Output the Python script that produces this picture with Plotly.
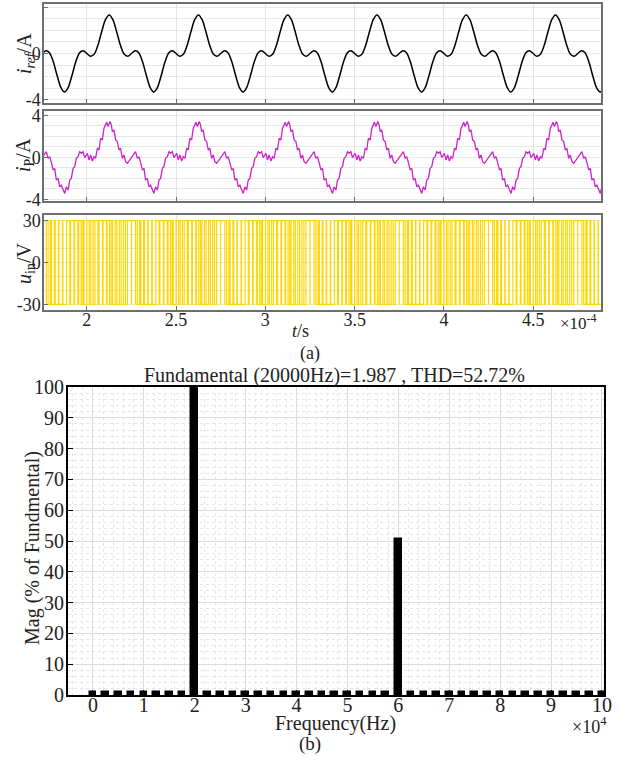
import plotly.graph_objects as go

# ---------------- (a) time-domain data ----------------
period_s = 5.0e-5              # one fundamental period (20 kHz)
first_period_start_s = 1.5e-4  # start of the first drawn period
n_periods = 7

# reference current, one period, sampled every 15 degrees
iref_phase_deg = [0, 15, 30, 45, 60, 75, 90, 105, 120, 135, 150, 165,
                  180, 195, 210, 225, 240, 255, 270, 285, 300, 315, 330, 345]
iref_values_A = [0, -0.24, -0.05, 0.74, 1.91, 2.94, 3.35, 2.94, 1.91, 0.74, -0.05, -0.24,
                 0, 0.24, 0.05, -0.74, -1.91, -2.94, -3.35, -2.94, -1.91, -0.74, 0.05, 0.24]

# actual current, one period (time offset in microseconds, value in A)
ip_tau_us = [0.3, 1.2, 2.1, 3.1, 4.0, 4.9, 5.9, 6.8, 7.7, 8.7, 9.6,
             10.5, 11.1, 11.9, 13.0, 13.7, 14.3, 15.2, 16.1, 17.1, 18.0,
             18.9, 19.9, 20.8, 21.7, 22.7, 27.3, 28.3, 29.2, 30.2, 31.1,
             32.0, 32.9, 33.9, 34.8, 35.7, 36.7, 37.6, 38.5, 39.5, 40.4,
             41.3, 42.3, 43.2, 44.1, 45.1, 46.0, 46.9, 47.9, 48.8, 49.7]
ip_values_A = [0.38, -0.25, 0.22, -0.35, 0.06, -0.10, 0.86, 0.70, 1.81, 1.65, 2.76,
               3.08, 3.33, 2.92, 3.40, 3.08, 2.44, 2.60, 1.65, 1.49, 0.70,
               0.86, -0.10, 0.22, -0.41, -0.57, 0.54, -0.10, 0.06, -0.55, -1.20,
               -1.05, -2.16, -2.00, -2.80, -2.65, -3.11, -3.43, -2.80, -3.11, -2.16,
               -2.00, -1.05, -0.89, -0.10, 0.06, 0.54, 0.38, 0.54, -0.03, 0.22]

# inverter voltage: +/- level and per-switching-cycle duty (22 cycles per period)
uin_level_V = 30
uin_duty = [0.6, 0.55, 0.75, 0.85, 0.85, 0.6, 0.35, 0.4, 0.45, 0.5, 1.0,
            1.0, 0.45, 0.3, 0.2, 0.1, 0.1, 0.8, 0.85, 0.8, 0.6, 0.3]

time_tick_vals_s = [2.0e-4, 2.5e-4, 3.0e-4, 3.5e-4, 4.0e-4, 4.5e-4]
time_tick_text = ["2", "2.5", "3", "3.5", "4", "4.5"]

# ---------------- (b) spectrum data ----------------
harm_freq_hz = [0, 2500, 5000, 7500, 10000, 12500, 15000, 17500, 20000, 22500,
                25000, 27500, 30000, 32500, 35000, 37500, 40000, 42500, 45000, 47500,
                50000, 52500, 55000, 57500, 60000, 62500, 65000, 67500, 70000, 72500,
                75000, 77500, 80000, 82500, 85000, 87500, 90000, 92500, 95000, 97500,
                100000]
harm_mag_pct = [1.1, 1.0, 1.0, 1.0, 1.0, 1.0, 1.0, 1.0, 100.0, 1.0,
                1.0, 1.0, 1.0, 1.0, 1.0, 1.0, 1.0, 1.0, 1.0, 1.0,
                1.0, 1.0, 1.0, 1.0, 50.5, 1.0, 1.0, 1.0, 1.0, 1.0,
                1.0, 1.0, 1.0, 1.0, 1.0, 1.0, 1.0, 1.0, 1.0, 1.0,
                1.0]
freq_tick_vals_hz = [0, 10000, 20000, 30000, 40000, 50000, 60000, 70000, 80000, 90000, 100000]
freq_tick_text = ["0", "1", "2", "3", "4", "5", "6", "7", "8", "9", "10"]
mag_tick_vals = [0, 10, 20, 30, 40, 50, 60, 70, 80, 90, 100]

# ---------------- build traces ----------------
t_ref, y_ref, t_p, y_p, t_u, y_u = [], [], [], [], [], []
cycle_s = period_s / len(uin_duty)
for n in range(n_periods):
    base = first_period_start_s + n * period_s
    for d, v in zip(iref_phase_deg, iref_values_A):
        t_ref.append(base + d / 360.0 * period_s)
        y_ref.append(v)
    for tau, v in zip(ip_tau_us, ip_values_A):
        t_p.append(base + tau * 1e-6)
        y_p.append(v)
    for k, duty in enumerate(uin_duty):
        start = base + k * cycle_s
        t_u += [start, start + duty * cycle_s]
        y_u += [uin_level_V, -uin_level_V]

SERIF = "Liberation Serif, Times New Roman, serif"
W, H = 619, 761


def px(x):
    return x / W


def py(y):
    return 1 - y / H


fig = go.Figure()
fig.add_trace(go.Scatter(x=t_ref, y=y_ref, mode="lines",
                         line=dict(color="black", width=1.5, shape="spline", smoothing=0.8),
                         xaxis="x", yaxis="y", showlegend=False))
fig.add_trace(go.Scatter(x=t_p, y=y_p, mode="lines", line=dict(color="#CC22CC", width=1.3),
                         xaxis="x2", yaxis="y2", showlegend=False))
fig.add_trace(go.Scatter(x=t_u, y=y_u, mode="lines", line=dict(color="#FFD700", width=1.2, shape="hv"),
                         xaxis="x3", yaxis="y3", showlegend=False))
fig.add_trace(go.Bar(x=harm_freq_hz, y=harm_mag_pct, width=1300,
                     marker=dict(color="black", line=dict(color="black", width=1.5)),
                     xaxis="x4", yaxis="y4", showlegend=False))

xdom_a = [px(44), px(601)]
trange = [1.76e-4, 4.88e-4]
frame = dict(showline=True, mirror=True, linecolor="#6e6e6e", linewidth=1.5, zeroline=False)
tickfont_a = dict(family=SERIF, size=18, color="#222")

common_x = dict(domain=xdom_a, range=trange, tickvals=time_tick_vals_s, ticktext=time_tick_text,
                showgrid=True, gridcolor="#e4e4e4", gridwidth=1, ticks="inside", ticklen=4,
                tickcolor="#6e6e6e", **frame)
common_y = dict(tickfont=tickfont_a, showgrid=False, ticks="inside", ticklen=4, tickcolor="#6e6e6e",
                ticklabelstandoff=-2, **frame)

layout = dict(
    width=W, height=H, margin=dict(l=0, r=0, t=0, b=0, autoexpand=False),
    paper_bgcolor="white", plot_bgcolor="white",
    xaxis=dict(anchor="y", showticklabels=False, **common_x),
    xaxis2=dict(anchor="y2", showticklabels=False, matches="x", **common_x),
    xaxis3=dict(anchor="y3", showticklabels=True, matches="x", tickfont=tickfont_a,
                ticklabelstandoff=-7, **common_x),
    yaxis=dict(domain=[py(103), py(4)], range=[-4.3, 4.3], tickvals=[-4, 0, 4], ticktext=["-4", "0", "4"],
               minor=dict(dtick=1, showgrid=True, gridcolor="#e8e8e8"), anchor="x", **common_y),
    yaxis2=dict(domain=[py(201), py(111)], range=[-4.15, 4.4], tickvals=[-4, 0, 4], ticktext=["-4", "0", "4"],
                minor=dict(dtick=1, showgrid=True, gridcolor="#e8e8e8"), anchor="x2", **common_y),
    yaxis3=dict(domain=[py(310), py(215)], range=[-34, 34], tickvals=[-30, 0, 30], ticktext=["-30", "0", "30"],
                minor=dict(dtick=10, showgrid=True, gridcolor="#e8e8e8"), anchor="x3", **common_y),
    xaxis4=dict(domain=[px(68), px(604)], range=[-4900, 100400], anchor="y4",
                tickvals=freq_tick_vals_hz, ticktext=freq_tick_text,
                tickfont=dict(family=SERIF, size=20, color="#222"), ticklabelstandoff=-9,
                showgrid=True, gridcolor="#dcdcdc", ticks="inside", ticklen=5, tickcolor="black",
                minor=dict(dtick=2000, showgrid=True, gridcolor="#e6e6e6", griddash="dot"),
                showline=True, mirror=True, linecolor="black", linewidth=2, zeroline=False),
    yaxis4=dict(domain=[py(695), py(387)], range=[0, 100], anchor="x4",
                tickvals=mag_tick_vals,
                tickfont=dict(family=SERIF, size=20, color="#222"), ticklabelstandoff=-2,
                showgrid=True, gridcolor="#dcdcdc", ticks="inside", ticklen=5, tickcolor="black",
                minor=dict(dtick=2, showgrid=True, gridcolor="#e6e6e6", griddash="dot"),
                showline=True, mirror=True, linecolor="black", linewidth=2, zeroline=False),
    bargap=0,
)
fig.update_layout(**layout)

ann = [
    dict(x=px(25), y=py(54), text="<i>i</i><sub><i>ref</i></sub>/A", textangle=-90, size=20),
    dict(x=px(25), y=py(155), text="<i>i</i><sub>P</sub>/A", textangle=-90, size=20),
    dict(x=px(25), y=py(264), text="<i>u</i><sub>in</sub>/V", textangle=-90, size=20),
    dict(x=px(300), y=py(331), text="<i>t</i>/s", textangle=0, size=18),
    dict(x=px(578), y=py(322), text="×10<sup>-4</sup>", textangle=0, size=17),
    dict(x=px(310), y=py(354), text="(a)", textangle=0, size=18),
    dict(x=px(334), y=py(375), text="Fundamental (20000Hz)=1.987 , THD=52.72%", textangle=0, size=20),
    dict(x=px(32), y=py(548), text="Mag (% of Fundmental)", textangle=-90, size=20),
    dict(x=px(335), y=py(723), text="Frequency(Hz)", textangle=0, size=20),
    dict(x=px(589), y=py(725), text="×10<sup>4</sup>", textangle=0, size=18),
    dict(x=px(310), y=py(744), text="(b)", textangle=0, size=19),
]
for a in ann:
    fig.add_annotation(x=a["x"], y=a["y"], xref="paper", yref="paper", text=a["text"],
                       textangle=a["textangle"], showarrow=False, xanchor="center", yanchor="middle",
                       font=dict(family=SERIF, size=a["size"], color="#222"))

fig.write_html("out.html")
